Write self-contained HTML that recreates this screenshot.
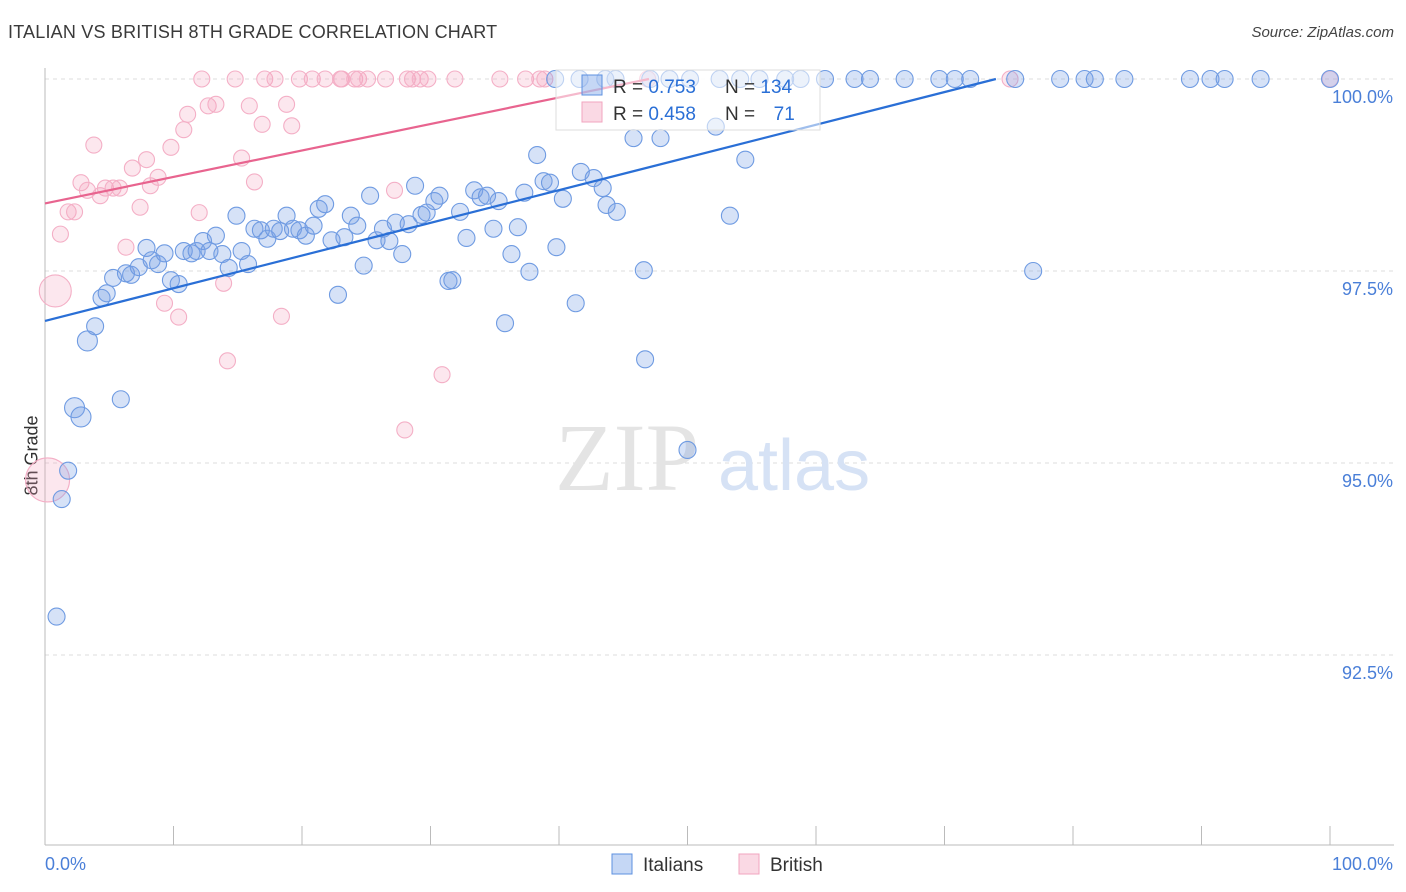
<!DOCTYPE html>
<html><head><meta charset="utf-8">
<style>
body{margin:0;background:#fff;font-family:"Liberation Sans",sans-serif;}
#wrap{position:relative;width:1406px;height:892px;overflow:hidden;}
.t{position:absolute;white-space:nowrap;}
</style></head>
<body>
<div id="wrap">
<div class="t" style="left:8px;top:22px;font-size:18px;color:#3a3a3a;letter-spacing:0.2px">ITALIAN VS BRITISH 8TH GRADE CORRELATION CHART</div>
<div class="t" style="right:12px;top:24px;font-size:15px;color:#444;font-style:italic">Source: ZipAtlas.com</div>
<div class="t" style="left:-8px;top:445px;font-size:18px;color:#333;transform:rotate(-90deg)">8th Grade</div>
<svg id="svg" width="1406" height="892" style="position:absolute;left:0;top:0"></svg>
</div>
<script>
const blueX=[0.9,1.3,1.8,2.3,2.8,3.3,3.9,4.4,4.8,5.3,5.9,6.3,6.7,7.3,7.9,8.3,8.8,9.3,9.8,10.4,10.8,11.4,11.8,12.3,12.8,13.3,13.8,14.3,14.9,15.3,15.8,16.3,16.8,17.3,17.8,18.3,18.8,19.3,19.8,20.3,20.9,21.3,21.8,22.3,22.8,23.3,23.8,24.3,24.8,25.3,25.8,26.3,26.8,27.3,27.8,28.3,28.8,29.3,29.7,30.3,30.7,31.4,31.7,32.3,32.8,33.4,33.9,34.4,34.9,35.3,35.8,36.3,36.8,37.3,37.7,38.3,38.8,39.3,39.8,40.3,41.3,41.7,42.7,43.4,43.7,44.5,45.8,46.6,46.7,47.9,50.0,52.2,53.3,54.5,76.9,100,
39.7,41.6,43.6,44.4,47.1,48.6,50.2,52.5,54.1,55.6,57.6,58.8,60.7,63.0,64.2,66.9,69.6,70.8,72.0,75.5,79.0,80.9,81.7,84.0,89.1,90.7,91.8,94.6];
const blueY=[93.0,94.53,94.9,95.72,95.6,96.59,96.78,97.15,97.21,97.41,95.83,97.47,97.45,97.55,97.8,97.64,97.59,97.73,97.38,97.33,97.76,97.73,97.76,97.89,97.76,97.96,97.72,97.54,98.22,97.76,97.59,98.05,98.03,97.92,98.05,98.02,98.22,98.05,98.03,97.96,98.09,98.31,98.37,97.9,97.19,97.94,98.22,98.09,97.57,98.48,97.9,98.05,97.89,98.13,97.72,98.11,98.61,98.23,98.26,98.41,98.48,97.37,97.38,98.27,97.93,98.55,98.46,98.48,98.05,98.41,96.82,97.72,98.07,98.52,97.49,99.01,98.67,98.65,97.81,98.44,97.08,98.79,98.71,98.58,98.36,98.27,99.23,97.51,96.35,99.23,95.17,99.38,98.22,98.95,97.5,100,
100,100,100,100,100,100,100,100,100,100,100,100,100,100,100,100,100,100,100,100,100,100,100,100,100,100,100,100];
const pinkX=[0.8,0.2,1.2,1.8,2.3,2.8,3.3,3.8,4.3,4.7,5.3,5.8,6.3,6.8,7.4,7.9,8.2,8.8,9.3,9.8,10.4,10.8,11.1,12.0,12.7,13.3,13.9,14.2,15.3,15.9,16.3,16.9,18.4,18.8,19.2,27.2,28.0,30.9,
12.2,14.8,17.1,17.9,19.8,20.8,21.8,23.0,23.1,24.1,24.4,25.1,26.5,28.2,28.6,29.2,29.8,31.9,35.4,37.4,38.5,38.9,46.9,75.1,100];
const pinkY=[97.24,94.78,97.98,98.27,98.27,98.65,98.55,99.14,98.48,98.58,98.58,98.58,97.81,98.84,98.33,98.95,98.61,98.72,97.08,99.11,96.9,99.34,99.54,98.26,99.65,99.67,97.34,96.33,98.97,99.65,98.66,99.41,96.91,99.67,99.39,98.55,95.43,96.15,
100,100,100,100,100,100,100,100,100,100,100,100,100,100,100,100,100,100,100,100,100,100,100,100,100];
const pinkBig={0:16,1:22};
const blueBig={5:10,3:10,4:10};
const yTicks=[100,97.5,95,92.5];
const yTickLabels=["100.0%","97.5%","95.0%","92.5%"];
const blueTrend=[[0,96.85],[74,100]];
const pinkTrend=[[0,98.38],[47,100]];

const X0=45,X1=1330,Y100=79,PXPER=76.8;
const sx=v=>X0+(X1-X0)*v/100;
const sy=v=>Y100+(100-v)*PXPER;
const svg=document.getElementById('svg');
const NS='http://www.w3.org/2000/svg';
function mk(tag,attrs,parent){const e=document.createElementNS(NS,tag);for(const k in attrs)e.setAttribute(k,attrs[k]);(parent||svg).appendChild(e);return e;}

yTicks.forEach((t,i)=>{
  const g=mk('line',{x1:45,x2:1394,y1:sy(t),y2:sy(t),stroke:'#dcdcdc','stroke-dasharray':'4,4'});
  
  
  const tx=mk('text',{x:1393,y:sy(t)+24,'text-anchor':'end','font-size':18,fill:'#4a7fd8','font-family':'Liberation Sans'});
  tx.textContent=yTickLabels[i];
  
  
});
const ax=mk('line',{x1:45,x2:45,y1:68,y2:845,stroke:'#bbb'});


const bx=mk('line',{x1:45,x2:1394,y1:845,y2:845,stroke:'#bbb'});


for(let i=0;i<=10;i++){
  const tk=mk('line',{x1:sx(i*10),x2:sx(i*10),y1:826,y2:845,stroke:'#bbb'});
  
  
}
[[0,'start',45,'0.0%'],[100,'end',1393,'100.0%']].forEach(a=>{
  const t=mk('text',{x:a[2],y:870,'text-anchor':a[1],'font-size':18,fill:'#4a7fd8','font-family':'Liberation Sans'});
  t.textContent=a[3];
  
  
});
const wm=mk('text',{x:555,y:490,'font-size':96,fill:'#e4e4e4','font-family':'Liberation Serif'});wm.textContent='ZIP';


const wm2=mk('text',{x:718,y:490,'font-size':72,fill:'#d6e2f5','font-family':'Liberation Sans'});wm2.textContent='atlas';



// stats legend (drawn beneath points, semi-transparent like reference)
const lg=mk('rect',{x:556,y:70,width:264,height:60,fill:'rgba(255,255,255,0.85)',stroke:'#ddd'});



pinkX.forEach((x,i)=>{
  const c=mk('circle',{cx:sx(x),cy:sy(pinkY[i]),r:pinkBig[i]||8,fill:'rgba(243,160,188,0.25)',stroke:'#f4afc6','stroke-width':1.1});
  
  
});
blueX.forEach((x,i)=>{
  const c=mk('circle',{cx:sx(x),cy:sy(blueY[i]),r:blueBig[i]||8.5,fill:'rgba(120,160,230,0.3)',stroke:'#6f9be2','stroke-width':1.1});
  
  
});
const bl=mk('line',{x1:sx(blueTrend[0][0]),y1:sy(blueTrend[0][1]),x2:sx(blueTrend[1][0]),y2:sy(blueTrend[1][1]),stroke:'#2a6fd6','stroke-width':2.2});


const pl=mk('line',{x1:sx(pinkTrend[0][0]),y1:sy(pinkTrend[0][1]),x2:sx(pinkTrend[1][0]),y2:sy(pinkTrend[1][1]),stroke:'#e8648f','stroke-width':2.2});



const lg2=mk('rect',{x:556,y:70,width:264,height:60,fill:'rgba(255,255,255,0.55)',stroke:'#ddd'});


[[86,'rgba(110,155,230,0.4)','#5d90e0','0.753','134'],[113,'rgba(243,160,188,0.4)','#f2a5bf','0.458',' 71']].forEach(r=>{
  const s=mk('rect',{x:582,y:r[0]-11,width:20,height:20,fill:r[1],stroke:r[2]});
  
  
  const t=mk('text',{x:613,y:r[0]+7,'font-size':19,fill:'#333','font-family':'Liberation Sans'});
  t.setAttribute('xml:space','preserve');
  t.innerHTML='R = <tspan fill="#2a6fd6">'+r[3]+'</tspan></tspan>';
  
  
  const t2=mk('text',{x:725,y:r[0]+7,'font-size':19,fill:'#333','font-family':'Liberation Sans'});
  t2.innerHTML='N = <tspan fill="#2a6fd6">'+(r[4].trim()==='71'?'\u2002\u200971':r[4])+'</tspan>';
  
  
});
[[612,'rgba(110,155,230,0.4)','#5d90e0','Italians','legend-italians'],[739,'rgba(243,160,188,0.4)','#f2a5bf','British','legend-british']].forEach(r=>{
  const s=mk('rect',{x:r[0],y:854,width:20,height:20,fill:r[1],stroke:r[2]});
  
  
  const t=mk('text',{x:r[0]+31,y:871,'font-size':19,fill:'#333','font-family':'Liberation Sans'});
  t.textContent=r[3];
  
  
});
</script>
</body></html>
